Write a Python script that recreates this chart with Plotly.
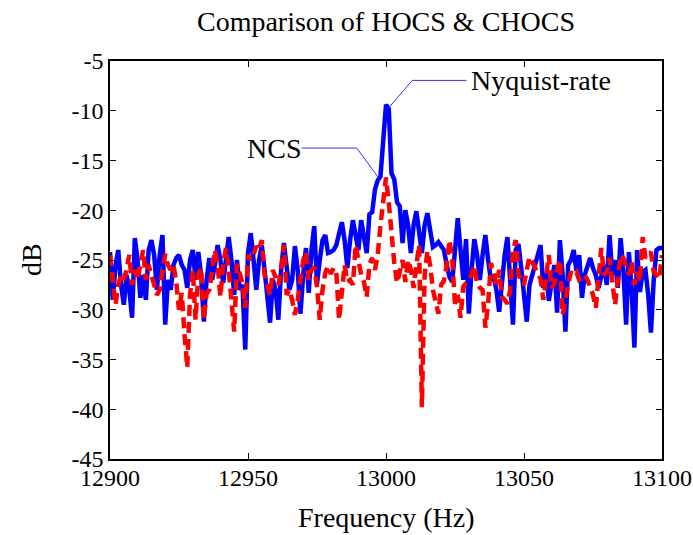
import plotly.graph_objects as go

# ---- data -------------------------------------------------------------
freq_hz = list(range(12900, 13101))  # 1 Hz bins, 12900 .. 13100

nyquist_db = [
    -24.2, -29.0, -25.5, -24.0, -27.5, -29.5, -26.5, -28.0, -30.8, -22.8,
    -25.0, -28.8, -26.5, -29.0, -24.0, -23.0, -24.5, -28.0, -24.5, -22.5,
    -31.5, -27.0, -28.0, -25.5, -24.8, -24.5, -25.5, -26.0, -27.8, -25.0,
    -24.0, -27.0, -24.2, -26.5, -31.2, -27.0, -24.8, -27.0, -25.5, -23.5,
    -25.0, -27.3, -25.0, -22.7, -25.0, -28.5, -25.0, -28.0, -27.5, -34.0,
    -24.3,
    -22.3, -25.0, -28.0, -25.0, -23.5, -26.0, -28.5, -31.3, -27.0, -28.0,
    -31.0, -26.0, -23.3, -25.5, -28.0, -27.0, -23.6, -26.0, -30.4, -26.5,
    -23.8, -28.3, -24.0, -21.6, -27.4, -25.0, -23.0, -22.5, -24.3, -24.2,
    -24.0, -23.5, -22.5, -21.2, -23.0, -25.8, -23.0, -21.0, -22.5, -24.0,
    -21.0, -22.5, -24.3, -20.4, -20.2, -17.9, -17.0, -16.6, -12.5, -9.4,
    -9.8, -16.3, -16.9, -19.2, -19.6, -23.3, -20.0, -21.5, -24.3, -21.5,
    -20.1, -22.5, -24.3, -21.5, -20.3, -22.0, -23.7, -23.5, -23.2, -23.6,
    -24.0, -25.5, -26.7, -27.2, -23.5, -20.8, -24.0, -27.0, -22.9, -30.4,
    -26.0, -22.9, -24.5, -27.0, -24.5, -22.5, -25.0, -27.0, -26.7, -28.0,
    -30.2, -27.0, -24.5, -22.7, -27.0, -31.5, -24.0, -23.4, -25.8, -28.5,
    -31.2, -27.5, -26.5, -25.8, -24.5, -23.5, -27.8, -26.3, -29.1, -27.0,
    -25.5, -30.3, -23.0, -26.5, -32.2, -25.5, -25.0, -24.0, -26.1, -24.5,
    -28.8, -26.5, -25.5, -24.8, -25.8, -26.5, -27.8, -26.5, -25.5, -27.5,
    -22.5, -26.5, -25.0, -27.8, -22.8, -26.0, -31.5, -24.2, -28.0, -33.8,
    -24.0, -28.2, -26.2, -26.0, -28.5, -32.3, -27.0, -24.0, -23.8, -23.8,
]

ncs_db = [
    -24.5, -27.0, -29.5, -27.5, -26.5, -27.0, -26.0, -24.5, -27.5, -26.0,
    -27.0, -25.5, -24.0, -27.0, -25.5, -26.5, -27.5, -28.5, -28.0, -25.8,
    -24.4, -25.5, -26.0, -25.5, -27.2, -30.0, -28.3, -32.5, -35.8, -28.5,
    -26.0, -31.0, -26.5, -25.8, -31.0, -28.4, -28.0, -26.0, -24.0, -25.5,
    -28.7, -25.4, -23.8, -26.0, -28.7, -32.2, -25.4, -26.5, -27.3, -29.8,
    -24.5,
    -25.0, -24.5, -23.6, -24.0, -23.0, -26.5, -27.5, -28.5, -26.0, -26.8,
    -27.5, -26.0, -23.5, -28.5, -28.0, -29.0, -30.5, -29.0, -27.2, -25.0,
    -24.2, -27.0, -26.0, -25.7, -27.7, -31.0, -28.0, -26.3, -25.6, -26.4,
    -25.8, -26.2, -31.0, -28.0, -25.5, -27.2, -27.0, -27.5, -23.5, -25.0,
    -26.5, -27.2, -28.7, -25.4, -24.8, -26.0, -24.5, -21.5, -18.8, -16.7,
    -19.2, -22.4, -25.3, -27.3, -26.0, -25.0, -27.2, -25.0, -26.0, -27.8,
    -25.5, -23.5, -39.8, -26.5, -24.1, -25.5, -28.0, -29.0, -30.4, -27.5,
    -27.1, -25.5, -23.0, -25.0, -29.4, -28.5, -30.8, -27.7, -27.3, -27.0,
    -26.5, -25.6, -27.4, -27.8, -28.0, -31.8, -29.4, -25.3, -26.5, -27.4,
    -26.0, -28.7, -29.0, -29.4, -28.0, -24.2, -23.0, -26.5, -27.0, -27.5,
    -26.0, -24.7, -25.2, -25.7, -26.3, -26.9, -29.0, -27.0, -24.5, -27.8,
    -27.4, -26.0, -25.0, -30.5, -28.7, -27.5, -26.2, -26.5, -26.2, -27.0,
    -26.8, -26.5, -27.0, -27.8, -28.5, -29.8, -27.3, -23.8, -26.5, -26.2,
    -24.8, -27.0, -29.5, -27.0, -24.5, -24.8, -25.5, -26.5, -25.2, -27.5,
    -26.2, -27.2, -22.7, -24.8, -24.5, -24.2, -26.2, -26.5, -26.9, -24.5,
]

x_tick_vals = [12900, 12950, 13000, 13050, 13100]
x_tick_text = ["12900", "12950", "13000", "13050", "13100"]
y_tick_vals = [-45, -40, -35, -30, -25, -20, -15, -10, -5]
y_tick_text = ["-45", "-40", "-35", "-30", "-25", "-20", "-15", "-10", "-5"]

# callout labels (data units): text anchor, leader start, elbow, target
nyq_label = "Nyquist-rate"
nyq_text_xy = (13030.6, -6.95)
nyq_start_xy = (13029.2, -6.95)
nyq_elbow_xy = (13009.5, -6.95)
nyq_target_xy = (13001.0, -9.7)

ncs_label = "NCS"
ncs_text_xy = (12969.6, -13.75)
ncs_start_xy = (12969.4, -13.75)
ncs_elbow_xy = (12989.4, -13.75)
ncs_target_xy = (12997.2, -16.7)

FONT = "'Liberation Serif', 'DejaVu Serif', Times, serif"

fig = go.Figure()
fig.add_trace(go.Scatter(x=freq_hz, y=nyquist_db, mode="lines", name="Nyquist-rate",
                         line=dict(color="#0000ff", width=4.5), hoverinfo="skip"))
fig.add_trace(go.Scatter(x=freq_hz, y=ncs_db, mode="lines", name="NCS",
                         line=dict(color="#ff0000", width=4.5, dash="11px,6px"),
                         hoverinfo="skip"))

for start_xy, elbow_xy, target_xy in [(nyq_start_xy, nyq_elbow_xy, nyq_target_xy),
                                      (ncs_start_xy, ncs_elbow_xy, ncs_target_xy)]:
    fig.add_shape(type="path", xref="x", yref="y",
                  path=f"M {start_xy[0]},{start_xy[1]} L {elbow_xy[0]},{elbow_xy[1]} L {target_xy[0]},{target_xy[1]}",
                  line=dict(color="#3333ff", width=1))

fig.add_annotation(x=nyq_text_xy[0], y=nyq_text_xy[1], xref="x", yref="y", text=nyq_label,
                   showarrow=False, xanchor="left", yanchor="middle", borderpad=0,
                   font=dict(family=FONT, size=28, color="black"))
fig.add_annotation(x=ncs_text_xy[0], y=ncs_text_xy[1], xref="x", yref="y", text=ncs_label,
                   showarrow=False, xanchor="right", yanchor="middle", borderpad=0,
                   font=dict(family=FONT, size=28, color="black"))

fig.add_annotation(x=0.5, y=-0.146, xref="paper", yref="paper", text="Frequency (Hz)",
                   showarrow=False, xanchor="center", yanchor="middle",
                   font=dict(family=FONT, size=28, color="black"))
fig.add_annotation(x=-0.143, y=0.5, xref="paper", yref="paper", text="dB", textangle=-90,
                   showarrow=False, xanchor="center", yanchor="middle",
                   font=dict(family=FONT, size=28, color="black"))

axis_common = dict(showline=True, linecolor="black", linewidth=1.5, mirror="ticks",
                   ticks="inside", ticklen=6, tickwidth=1, tickcolor="black",
                   showgrid=False, zeroline=False, ticklabeloverflow="allow",
                   automargin=False,
                   tickfont=dict(family=FONT, size=24, color="black"))

fig.update_layout(
    width=693, height=535,
    margin=dict(l=110, r=31, t=61, b=76, autoexpand=False),
    paper_bgcolor="white", plot_bgcolor="white",
    showlegend=False,
    title=dict(text="Comparison of HOCS &amp; CHOCS", x=0.557, xref="container",
               y=1 - 21 / 535, yref="container", xanchor="center", yanchor="middle",
               font=dict(family=FONT, size=28, color="black")),
    xaxis=dict(range=[12900, 13100], tickvals=x_tick_vals, ticktext=x_tick_text,
               ticklabelstandoff=-4, **axis_common),
    yaxis=dict(range=[-45, -5], tickvals=y_tick_vals, ticktext=y_tick_text, **axis_common),
)

fig.write_html("out.html")
